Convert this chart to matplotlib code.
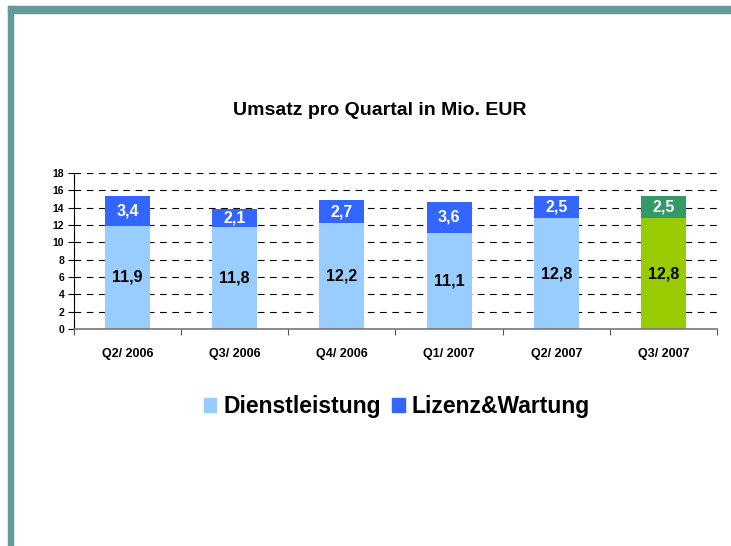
import matplotlib.pyplot as plt
from matplotlib.patches import Rectangle, Patch

quartale = ["Q2/ 2006", "Q3/ 2006", "Q4/ 2006", "Q1/ 2007", "Q2/ 2007", "Q3/ 2007"]
dienstleistung = [11.9, 11.8, 12.2, 11.1, 12.8, 12.8]
lizenz = [3.4, 2.1, 2.7, 3.6, 2.5, 2.5]

farbe_dl = ["#99ccff"] * 5 + ["#99cc00"]
farbe_lz = ["#3366ff"] * 5 + ["#339966"]

plt.rcParams["font.family"] = ["Liberation Sans", "DejaVu Sans"]
plt.rcParams["font.weight"] = "bold"

fig = plt.figure(figsize=(7.31, 5.46), dpi=100)

# Rahmen (oben und links)
fig.patches.append(Rectangle((8 / 731, 1 - 13 / 546), 1, 7 / 546, transform=fig.transFigure,
                             color="#669999", zorder=0))
fig.patches.append(Rectangle((8 / 731, 0), 5 / 731, 1 - 6 / 546, transform=fig.transFigure,
                             color="#669999", zorder=0))

ax = fig.add_axes([74 / 731, 217 / 546, 643 / 731, 156 / 546])
x = range(len(quartale))
ax.bar(x, dienstleistung, width=0.42, color=farbe_dl, zorder=2)
ax.bar(x, lizenz, width=0.42, bottom=dienstleistung, color=farbe_lz, zorder=2)

for i in x:
    ax.text(i, dienstleistung[i] / 2, f"{dienstleistung[i]:.1f}".replace(".", ","),
            ha="center", va="center", fontsize=11.5, fontweight="bold", color="black", zorder=3)
    ax.text(i, dienstleistung[i] + lizenz[i] / 2, f"{lizenz[i]:.1f}".replace(".", ","),
            ha="center", va="center", fontsize=11.5, fontweight="bold", color="white", zorder=3)

ax.set_xlim(-0.5, 5.5)
ax.set_ylim(0, 18)
ax.set_yticks(range(0, 19, 2))
ax.set_xticks([i + 0.5 for i in range(-1, 6)], minor=False)
ax.set_xticklabels([])
ax.set_xticks(list(x), minor=True)
ax.set_xticklabels(quartale, minor=True, fontsize=9, fontweight="bold")
ax.tick_params(axis="x", which="minor", length=0, pad=14)
ax.tick_params(axis="x", which="major", length=4, direction="out", color="#555555")
ax.tick_params(axis="y", labelsize=7.5, length=4, direction="out", pad=3)

for y in range(2, 19, 2):
    ax.axhline(y, color="black", linewidth=0.8, dashes=(6, 5), zorder=1)

for s in ["top", "right"]:
    ax.spines[s].set_visible(False)
ax.spines["bottom"].set_color("#777777")
ax.spines["bottom"].set_linewidth(1.2)
ax.spines["left"].set_color("black")
ax.spines["left"].set_linewidth(0.8)

fig.text(380 / 731, 1 - 111 / 546, "Umsatz pro Quartal in Mio. EUR", ha="center", va="center",
         fontsize=14, fontweight="bold")

handles = [Patch(color="#99ccff", label="Dienstleistung"), Patch(color="#3366ff", label="Lizenz&Wartung")]
fig.legend(handles=handles, loc="center", bbox_to_anchor=(397 / 731, 1 - 407 / 546), ncol=2,
           frameon=False, handlelength=0.55, handleheight=0.55, handletextpad=0.3,
           columnspacing=0.5, prop={"weight": "bold", "size": 16.5})

fig.savefig("out.png", dpi=100)
